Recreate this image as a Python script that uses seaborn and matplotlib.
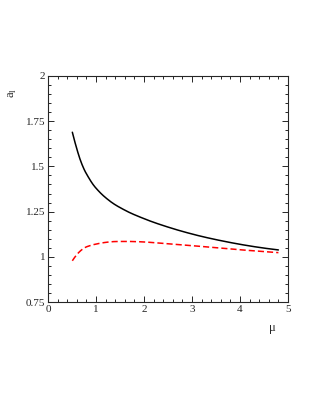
import pandas as pd
import numpy as np
import matplotlib.pyplot as plt
import seaborn as sns
from matplotlib.ticker import MultipleLocator

# values
mu_black = [0.507, 0.597, 0.667, 0.75, 0.84, 0.944, 1.05, 1.29, 1.6, 1.99,
            2.54, 3.03, 3.72, 4.8]
a_black = [1.689, 1.600, 1.540, 1.485, 1.441, 1.398, 1.365, 1.308, 1.258, 1.212,
           1.161, 1.124, 1.083, 1.038]

mu_red = [0.507, 0.61, 0.75, 0.89, 1.03, 1.31, 1.58, 1.93, 2.54, 3.03, 3.72, 4.8]
a_red = [0.978, 1.015, 1.048, 1.063, 1.072, 1.083, 1.085, 1.083, 1.071, 1.061,
         1.045, 1.023]

x_ticks = [0, 1, 2, 3, 4, 5]
y_ticks = [0.75, 1, 1.25, 1.5, 1.75, 2]
y_ticklabels = ['0.75', '1', '1.25', '1.5', '1.75', '2']


def smooth(x, y, n=300):
    """Cubic Hermite curve through the read points (second order end slopes)."""
    x = np.asarray(x, float)
    y = np.asarray(y, float)
    m = np.gradient(y, x, edge_order=2)
    xs = np.linspace(x[0], x[-1], n)
    k = np.clip(np.searchsorted(x, xs, side='right') - 1, 0, len(x) - 2)
    h = x[k + 1] - x[k]
    t = (xs - x[k]) / h
    h00 = 2 * t**3 - 3 * t**2 + 1
    h10 = t**3 - 2 * t**2 + t
    h01 = -2 * t**3 + 3 * t**2
    h11 = t**3 - t**2
    ys = h00 * y[k] + h10 * h * m[k] + h01 * y[k + 1] + h11 * h * m[k + 1]
    return xs, ys


sns.set_style('ticks')
plt.rcParams['font.family'] = ['Liberation Serif', 'DejaVu Serif']

fig = plt.figure(figsize=(3.21, 4.15), dpi=100)
ax = fig.add_axes([48 / 321, 1 - 302 / 415, 240 / 321, 226 / 415])

xb, yb = smooth(mu_black, a_black)
xr, yr = smooth(mu_red, a_red)
df_black = pd.DataFrame({'mu': xb, 'a': yb})
df_red = pd.DataFrame({'mu': xr, 'a': yr})

sns.lineplot(data=df_black, x='mu', y='a', color='black', linewidth=1.1, ax=ax)
sns.lineplot(data=df_red, x='mu', y='a', color='red', linewidth=1.1,
             linestyle=(0, (4, 2)), ax=ax)

ax.set_xlim(0, 5)
ax.set_ylim(0.75, 2)
ax.set_xticks(x_ticks)
ax.set_xticklabels([str(t) for t in x_ticks])
ax.set_yticks(y_ticks)
ax.set_yticklabels(y_ticklabels)
ax.xaxis.set_minor_locator(MultipleLocator(0.2))
ax.yaxis.set_minor_locator(MultipleLocator(0.05))
ax.tick_params(which='both', direction='in', top=True, right=True,
               labelsize=8, width=0.7, pad=2)
ax.tick_params(which='major', length=4)
ax.tick_params(which='minor', length=2)
for s in ax.spines.values():
    s.set_linewidth(0.8)
    s.set_visible(True)

ax.set_xlabel('')
ax.set_ylabel('')
fig.text(272 / 321, 1 - 328 / 415, 'μ', fontsize=9, ha='center', va='center')
fig.text(13 / 321, 1 - 93 / 415, r'a$_\mathregular{l}$', fontsize=9,
         ha='center', va='center', rotation=90)

fig.savefig('out.png', dpi=100)
